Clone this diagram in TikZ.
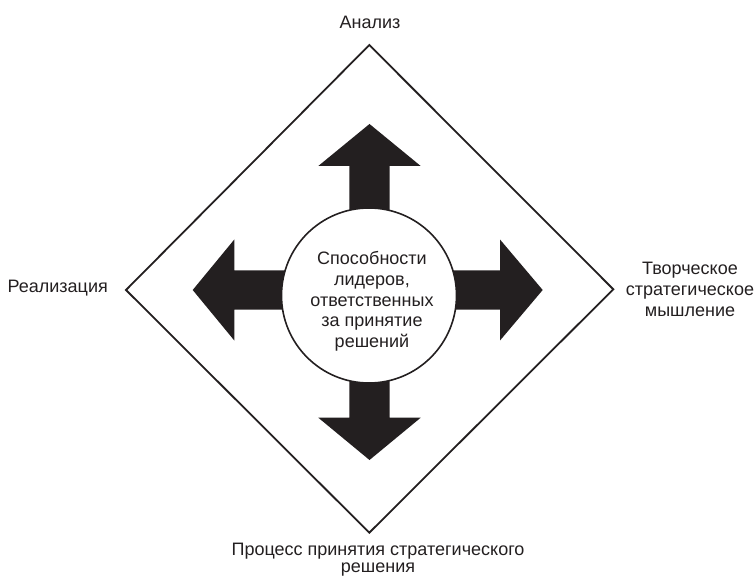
\documentclass[tikz,border=0pt]{standalone}
\usepackage{fontspec}
\setmainfont{Liberation Sans}
\definecolor{negro}{HTML}{231F20}

\begin{document}
\begin{tikzpicture}[x=1pt, y=-1pt,
    flecha/.style={fill=negro},
    etiqueta/.style={text=negro, inner sep=0pt, align=center,
                     font=\fontsize{18}{21}\selectfont}]
      \useasboundingbox (0,0) rectangle (755,577);

      % Rombo exterior
      \draw[negro, line width=1.8pt] (369.3,45) -- (613.3,289.3)
        -- (369.3,532.7) -- (126,290) -- cycle;

      % Flechas (arriba, abajo, izquierda, derecha)
      \fill[flecha] (349.3,215) -- (349.3,166) -- (318.3,166) -- (369.5,124)
        -- (420.7,166) -- (389.7,166) -- (389.7,215) -- cycle;
      \fill[flecha] (349.3,375) -- (349.3,417.7) -- (318.3,417.7) -- (369.5,460)
        -- (420.7,417.7) -- (389.7,417.7) -- (389.7,375) -- cycle;
      \fill[flecha] (290,270.3) -- (234.3,270.3) -- (234.3,239.5) -- (192.7,290)
        -- (234.3,340.5) -- (234.3,309.7) -- (290,309.7) -- cycle;
      \fill[flecha] (450,270.3) -- (500,270.3) -- (500,239.5) -- (542.7,290)
        -- (500,340.5) -- (500,309.7) -- (450,309.7) -- cycle;

      % Circulo central
      \node[circle, draw=negro, fill=white, line width=1.6pt,
            minimum size=175pt, inner sep=0pt] (circulo) at (369,295.5) {};
      \node[etiqueta, anchor=north, font=\fontsize{18}{20.8}\selectfont]
        (centro) at (372,251) {Способности\\лидеров,\\ответственных\\за принятие\\решений};

      % Etiquetas de los vertices
      \node[etiqueta, anchor=base] (analiz) at (370,29) {Анализ};
      \node[etiqueta, anchor=base east] (realiz) at (108,293) {Реализация};
      \node[etiqueta, anchor=north] (tvorch) at (690,262)
        {Творческое\\стратегическое\\мышление};
      \node[etiqueta, anchor=north, font=\fontsize{18}{17}\selectfont]
        (process) at (378,543) {Процесс принятия стратегического\\решения};
    \end{tikzpicture}
\end{document}
